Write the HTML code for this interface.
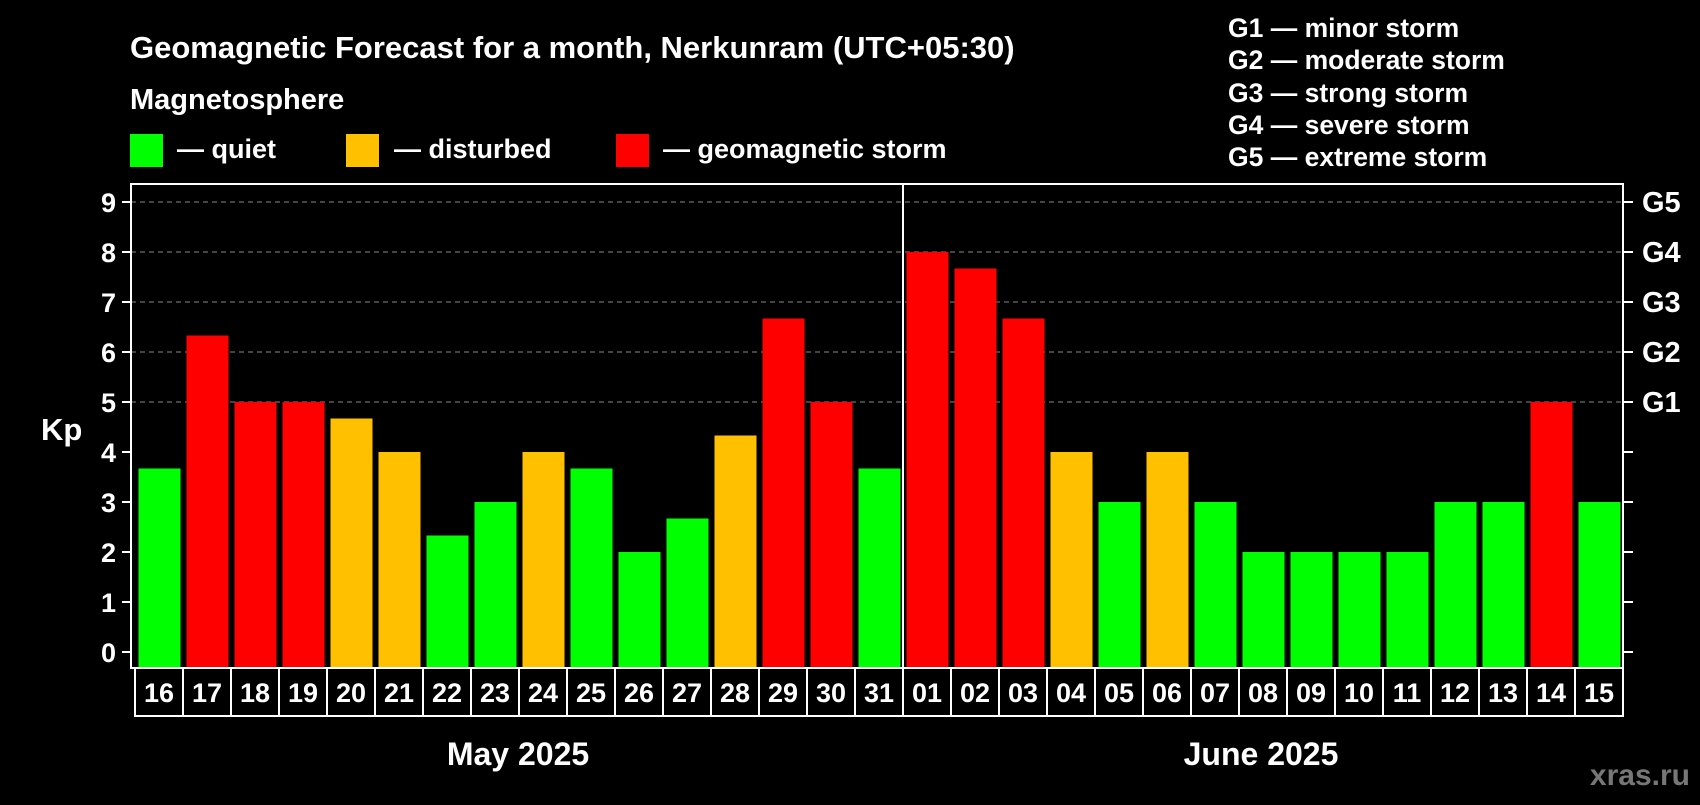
<!DOCTYPE html>
<html><head><meta charset="utf-8"><style>
body{margin:0;background:#000;width:1700px;height:800px;overflow:hidden}
svg text{font-family:"Liberation Sans",Arial,sans-serif;font-weight:bold;fill:#fff}
</style></head><body>
<svg id="c" width="1700" height="800">
<text x="130" y="58" font-size="31">Geomagnetic Forecast for a month, Nerkunram (UTC+05:30)</text>
<text x="130" y="109" font-size="29">Magnetosphere</text>
<rect x="130" y="134" width="33" height="33" fill="#00ff00"/>
<text x="177" y="158" font-size="27">— quiet</text>
<rect x="346" y="134" width="33" height="33" fill="#ffc000"/>
<text x="394" y="158" font-size="27">— disturbed</text>
<rect x="616" y="134" width="33" height="33" fill="#ff0000"/>
<text x="663" y="158" font-size="27">— geomagnetic storm</text>
<g font-size="26.5">
<text x="1228" y="37">G1 — minor storm</text>
<text x="1228" y="69">G2 — moderate storm</text>
<text x="1228" y="102">G3 — strong storm</text>
<text x="1228" y="134">G4 — severe storm</text>
<text x="1228" y="166">G5 — extreme storm</text>
</g>
<text x="41" y="440" font-size="31">Kp</text>
<text x="518" y="765" font-size="32" text-anchor="middle">May 2025</text>
<text x="1261" y="765" font-size="32" text-anchor="middle">June 2025</text>
<text x="1690" y="785" font-size="30" text-anchor="end" style="fill:#777">xras.ru</text>
<g id="plot"></g>
</svg>
<script>
const days=["16","17","18","19","20","21","22","23","24","25","26","27","28","29","30","31","01","02","03","04","05","06","07","08","09","10","11","12","13","14","15"];
const kp=[3.67,6.33,5,5,4.67,4,2.33,3,4,3.67,2,2.67,4.33,6.67,5,3.67,8,7.67,6.67,4,3,4,3,2,2,2,2,3,3,5,3];
const yTicks=[0,1,2,3,4,5,6,7,8,9];
const gLabels=["","","","","","G1","G2","G3","G4","G5"];
const NS="http://www.w3.org/2000/svg";
const g=document.getElementById('plot');
const L=131,R=1623,T=184,B=668,Y0=652,U=50,P=48,X0=135;
const y=v=>Y0-v*U, x=i=>X0+i*P;
function mk(t,a,txt){const e=document.createElementNS(NS,t);for(const k in a)e.setAttribute(k,a[k]);if(txt!==undefined)e.textContent=txt;g.appendChild(e);return e;}
yTicks.forEach((v,i)=>{
 if(v>=5){const l=mk('line',{x1:L,x2:R,y1:y(v),y2:y(v),stroke:'#888','stroke-dasharray':'5,4','stroke-width':1});
 
 }
 mk('line',{x1:L-9,x2:L,y1:y(v),y2:y(v),stroke:'#fff','stroke-width':2});
 mk('line',{x1:R,x2:R+10,y1:y(v),y2:y(v),stroke:'#fff','stroke-width':2});
 const t=mk('text',{x:116,y:y(v)+10,'font-size':27,'text-anchor':'end'},String(v));
 
 
 if(gLabels[i]){const gt=mk('text',{x:1642,y:y(v)+10,'font-size':29},gLabels[i]);
 
 }
});
kp.forEach((v,i)=>{
 const c=v>=5?'#ff0000':(v>=4?'#ffc000':'#00ff00');
 const r=mk('rect',{x:x(i)+3.5,y:y(v),width:42,height:B-y(v),fill:c});
 
 
 mk('rect',{x:x(i),y:B,width:P,height:48,fill:'none',stroke:'#fff','stroke-width':2});
 const t=mk('text',{x:x(i)+P/2,y:B+34,'font-size':27,'text-anchor':'middle'},days[i]);
 
 
});
const f=mk('rect',{x:L,y:T,width:R-L,height:B-T,fill:'none',stroke:'#fff','stroke-width':2});


const d=mk('line',{x1:x(16),x2:x(16),y1:T,y2:B,stroke:'#fff','stroke-width':2});


</script>
</body></html>
